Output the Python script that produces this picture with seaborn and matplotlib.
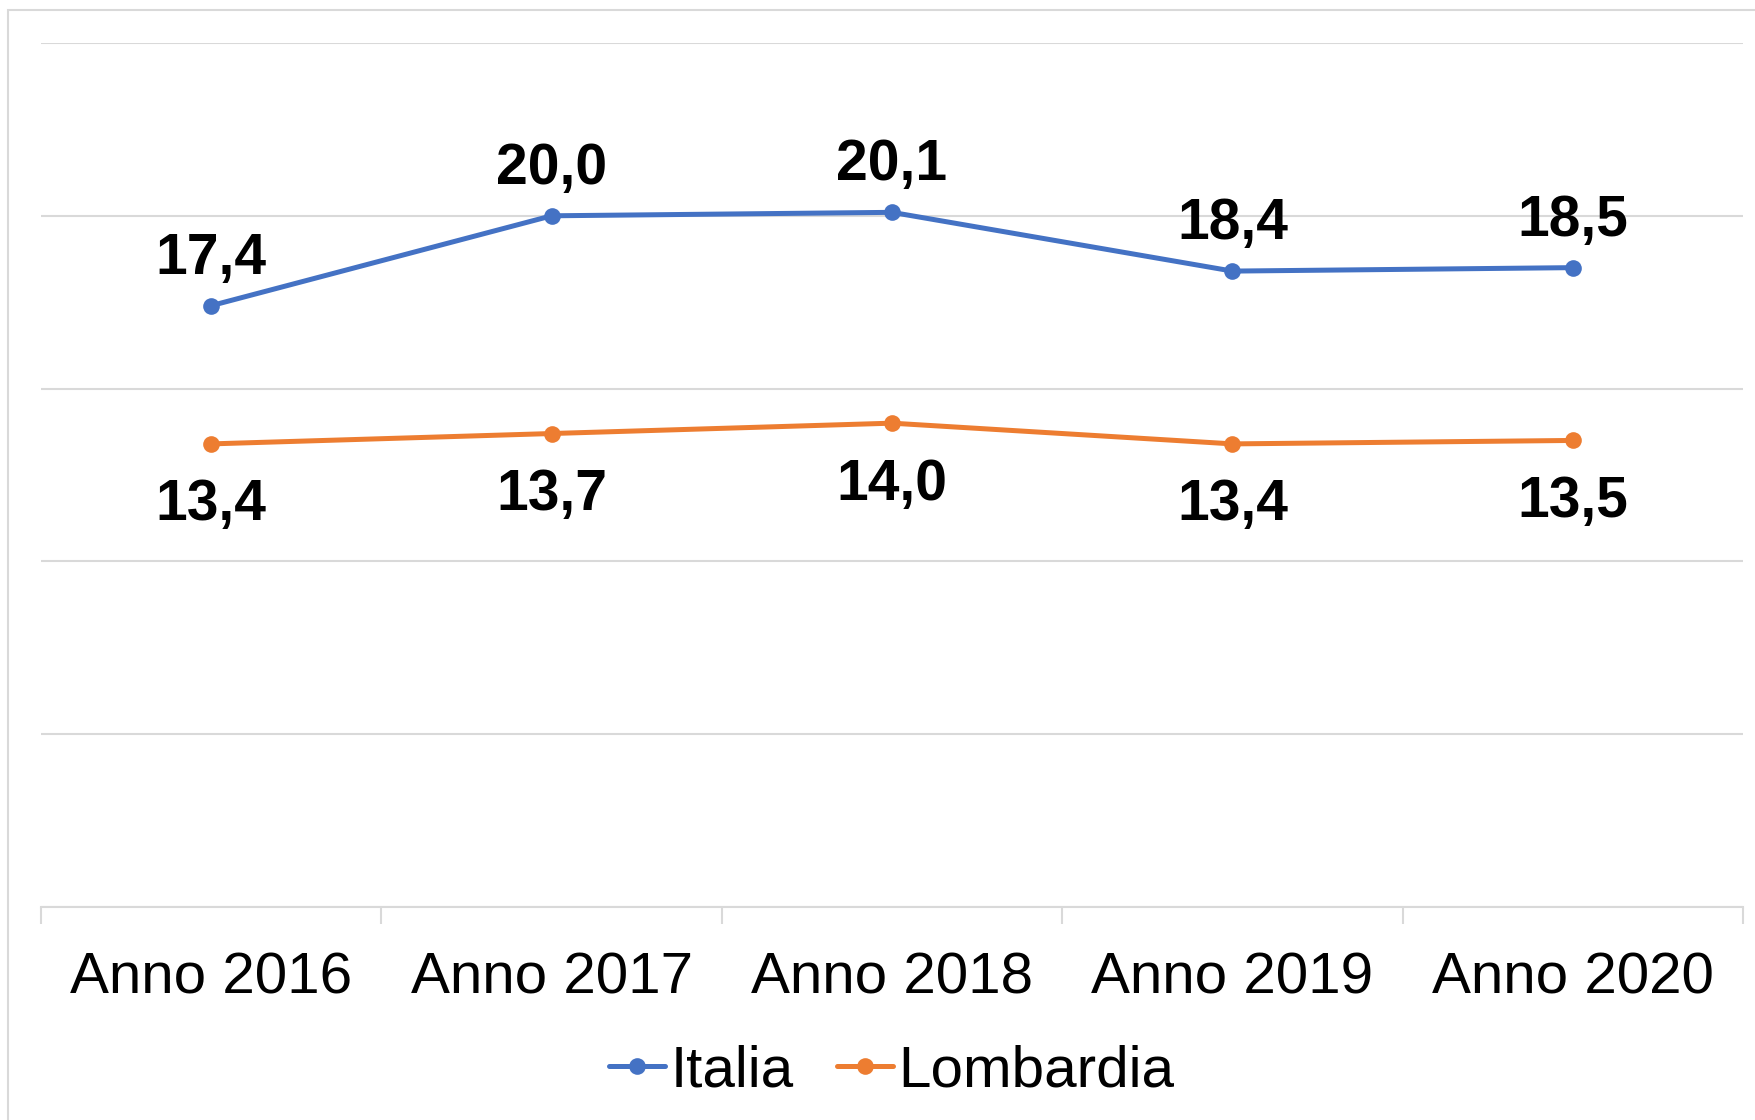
import matplotlib
matplotlib.use("Agg")
import matplotlib.pyplot as plt
import seaborn as sns
import pandas as pd
from matplotlib.patches import Rectangle

categories = ["Anno 2016", "Anno 2017", "Anno 2018", "Anno 2019", "Anno 2020"]
italia = [17.4, 20.0, 20.1, 18.4, 18.5]
lombardia = [13.4, 13.7, 14.0, 13.4, 13.5]
series_names = ["Italia", "Lombardia"]
colors = ["#4472C4", "#ED7D31"]

sns.set_theme(style="white")
plt.rcParams['font.family'] = ['Liberation Sans', 'DejaVu Sans']
plt.rcParams['text.color'] = 'black'
plt.rcParams['xtick.labelcolor'] = 'black'

df = pd.DataFrame({
    "cat": categories * 2,
    "x": list(range(len(categories))) * 2,
    "val": italia + lombardia,
    "serie": [series_names[0]] * len(categories) + [series_names[1]] * len(categories),
})

fig = plt.figure(figsize=(17.56, 11.2), dpi=100)
ax = fig.add_axes([41 / 1756, 1 - 907 / 1120, (1743 - 41) / 1756, (907 - 43) / 1120])

sns.lineplot(data=df, x="x", y="val", hue="serie", palette=colors, marker="o",
             markersize=12, markeredgewidth=0, linewidth=3.6, ax=ax, legend=True)
for ln in ax.lines:
    ln.set_linewidth(3.6)
    ln.set_markersize(12)
    ln.set_markeredgewidth(0)

ax.set_xlim(-0.5, len(categories) - 0.5)
ax.set_ylim(0, 25)
ax.set_yticks([0, 5, 10, 15, 20, 25])
ax.yaxis.grid(True, color="#D9D9D9", linewidth=1.5)
ax.set_yticklabels([])
ax.tick_params(axis="y", length=0)
ax.set_xticks([i - 0.5 for i in range(len(categories) + 1)])
ax.set_xticks(range(len(categories)), minor=True)
ax.set_xticklabels([])
ax.set_xticklabels(categories, minor=True, fontsize=42, color="black")
ax.tick_params(axis="x", which="major", bottom=True, length=12, width=1.5, color="#D9D9D9", direction="out")
ax.tick_params(axis="x", which="minor", bottom=True, length=0, pad=32)
ax.set_xlabel("")
ax.set_ylabel("")
for s in ["top", "right", "left"]:
    ax.spines[s].set_visible(False)
ax.spines["bottom"].set_color("#D9D9D9")
ax.spines["bottom"].set_linewidth(1.5)

for i, v in enumerate(italia):
    ax.annotate(f"{v:.1f}".replace(".", ","), (i, v), xytext=(0, 23), textcoords="offset points",
                ha="center", va="baseline", fontsize=41, fontweight="bold", color="black")
for i, v in enumerate(lombardia):
    ax.annotate(f"{v:.1f}".replace(".", ","), (i, v), xytext=(0, -55), textcoords="offset points",
                ha="center", va="baseline", fontsize=41, fontweight="bold", color="black")

handles, labels = ax.get_legend_handles_labels()
leg = ax.legend(handles, labels, loc="center", bbox_to_anchor=(0.5, -0.19), ncol=2, frameon=False,
                fontsize=42, handlelength=0.95, handletextpad=0.1, columnspacing=0.75,
                borderaxespad=0)
for t in leg.get_texts():
    t.set_color("black")
for h in leg.get_lines():
    h.set_linewidth(3.6)
    h.set_markersize(12)
    h.set_markeredgewidth(0)

fig.patches.append(Rectangle((8 / 1756, -0.1), 1.2, 1 - 10 / 1120 + 0.1, transform=fig.transFigure,
                             fill=False, edgecolor="#D9D9D9", linewidth=1.5))

fig.savefig("out.png", dpi=100)
